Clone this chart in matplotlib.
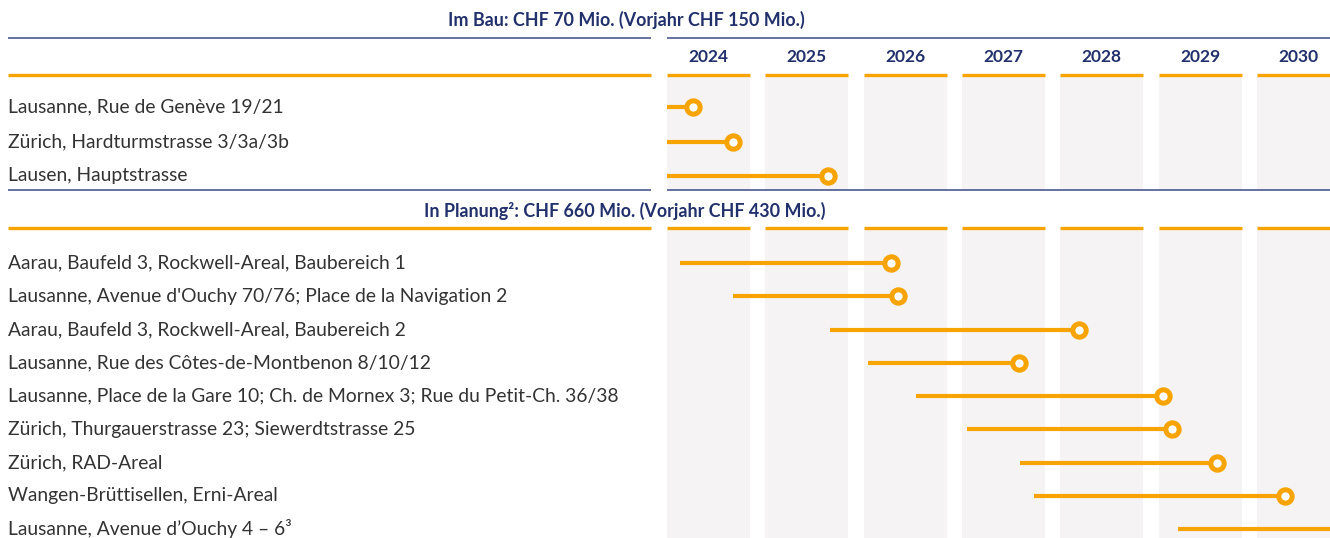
import matplotlib
matplotlib.use('Agg')
import matplotlib.pyplot as plt
import numpy as np

plt.rcParams['font.family'] = ['Lato', 'DejaVu Sans']

# data
years = [2024, 2025, 2026, 2027, 2028, 2029, 2030]

sec1_title = 'Im Bau: CHF 70 Mio. (Vorjahr CHF 150 Mio.)'
sec1_labels = ['Lausanne, Rue de Genève 19/21',
               'Zürich, Hardturmstrasse 3/3a/3b',
               'Lausen, Hauptstrasse']
sec1_start = [2024.0, 2024.0, 2024.0]
sec1_end = [2024.26, 2024.67, 2025.64]

sec2_title = 'In Planung²: CHF 660 Mio. (Vorjahr CHF 430 Mio.)'
sec2_labels = ['Aarau, Baufeld 3, Rockwell-Areal, Baubereich 1',
               "Lausanne, Avenue d'Ouchy 70/76; Place de la Navigation 2",
               'Aarau, Baufeld 3, Rockwell-Areal, Baubereich 2',
               'Lausanne, Rue des Côtes-de-Montbenon 8/10/12',
               'Lausanne, Place de la Gare 10; Ch. de Mornex 3; Rue du Petit-Ch. 36/38',
               'Zürich, Thurgauerstrasse 23; Siewerdtstrasse 25',
               'Zürich, RAD-Areal',
               'Wangen-Brüttisellen, Erni-Areal',
               'Lausanne, Avenue d’Ouchy 4 – 6³']
sec2_start = [2024.13, 2024.67, 2025.66, 2026.04, 2026.53, 2027.05, 2027.59, 2027.73, 2029.2]
sec2_end = [2026.28, 2026.35, 2028.19, 2027.58, 2029.05, 2029.14, 2029.60, 2030.29, 2031.0]
sec2_marker = [True] * 8 + [False]

# colours
ORANGE = '#F7A400'
NAVY = '#22306B'
NAVY_LINE = '#4B5A8C'
GRAY = '#F5F3F4'
TEXT = '#333333'

W, H = 1330, 538
PX = 98.3            # pixels per year
X0 = 667             # pixel of 2024
COLW = 0.845         # column width in years


def px2x(p):
    return 2024 + (p - X0) / PX


fig = plt.figure(figsize=(W / 100, H / 100), dpi=100)
ax = fig.add_axes([0, 0, 1, 1])
ax.set_xlim(px2x(0), px2x(W))
ax.set_ylim(H, 0)
ax.axis('off')

# layout (pixel rows)
y1 = 107 + 34.5 * np.arange(len(sec1_labels))
y2 = 263 + 33.25 * np.arange(len(sec2_labels))

# gray year columns
yrs = np.array(years)
ax.bar(yrs, 113, width=COLW, bottom=77, align='edge', color=GRAY, zorder=0)
ax.bar(yrs, H - 230, width=COLW, bottom=230, align='edge', color=GRAY, zorder=0)

# section titles
ax.text(px2x(626), 20, sec1_title, ha='center', va='center', fontsize=12.9,
        fontweight='bold', color=NAVY)
ax.text(px2x(625), 211, sec2_title, ha='center', va='center', fontsize=12.9,
        fontweight='bold', color=NAVY)

# navy rules
for yy in (38, 190):
    ax.hlines(yy, px2x(8), px2x(651), color=NAVY_LINE, lw=1.2)
    ax.hlines(yy, px2x(667), px2x(W), color=NAVY_LINE, lw=1.2)

# orange rules
for yy in (75, 228):
    ax.hlines(yy, px2x(8), px2x(651), color=ORANGE, lw=2.4)
    ax.hlines([yy] * len(yrs), yrs, yrs + COLW, color=ORANGE, lw=2.4)

# year labels
for yr in years:
    ax.text(yr + COLW / 2, 57, str(yr), ha='center', va='center', fontsize=12.5,
            fontweight='bold', color=NAVY)


def draw_rows(ys, labels, starts, ends, markers):
    for yy, lab, s, e, m in zip(ys, labels, starts, ends, markers):
        ax.text(px2x(8), yy, lab, ha='left', va='center', fontsize=13.85, color=TEXT)
        ax.plot([s, e], [yy, yy], color=ORANGE, lw=3, solid_capstyle='butt', zorder=2)
        if m:
            ax.plot(e, yy, 'o', ms=9.6, mew=3.6, mec=ORANGE, mfc='white', zorder=3)


draw_rows(y1, sec1_labels, sec1_start, sec1_end, [True] * 3)
draw_rows(y2, sec2_labels, sec2_start, sec2_end, sec2_marker)

fig.savefig('out.png', dpi=100)
